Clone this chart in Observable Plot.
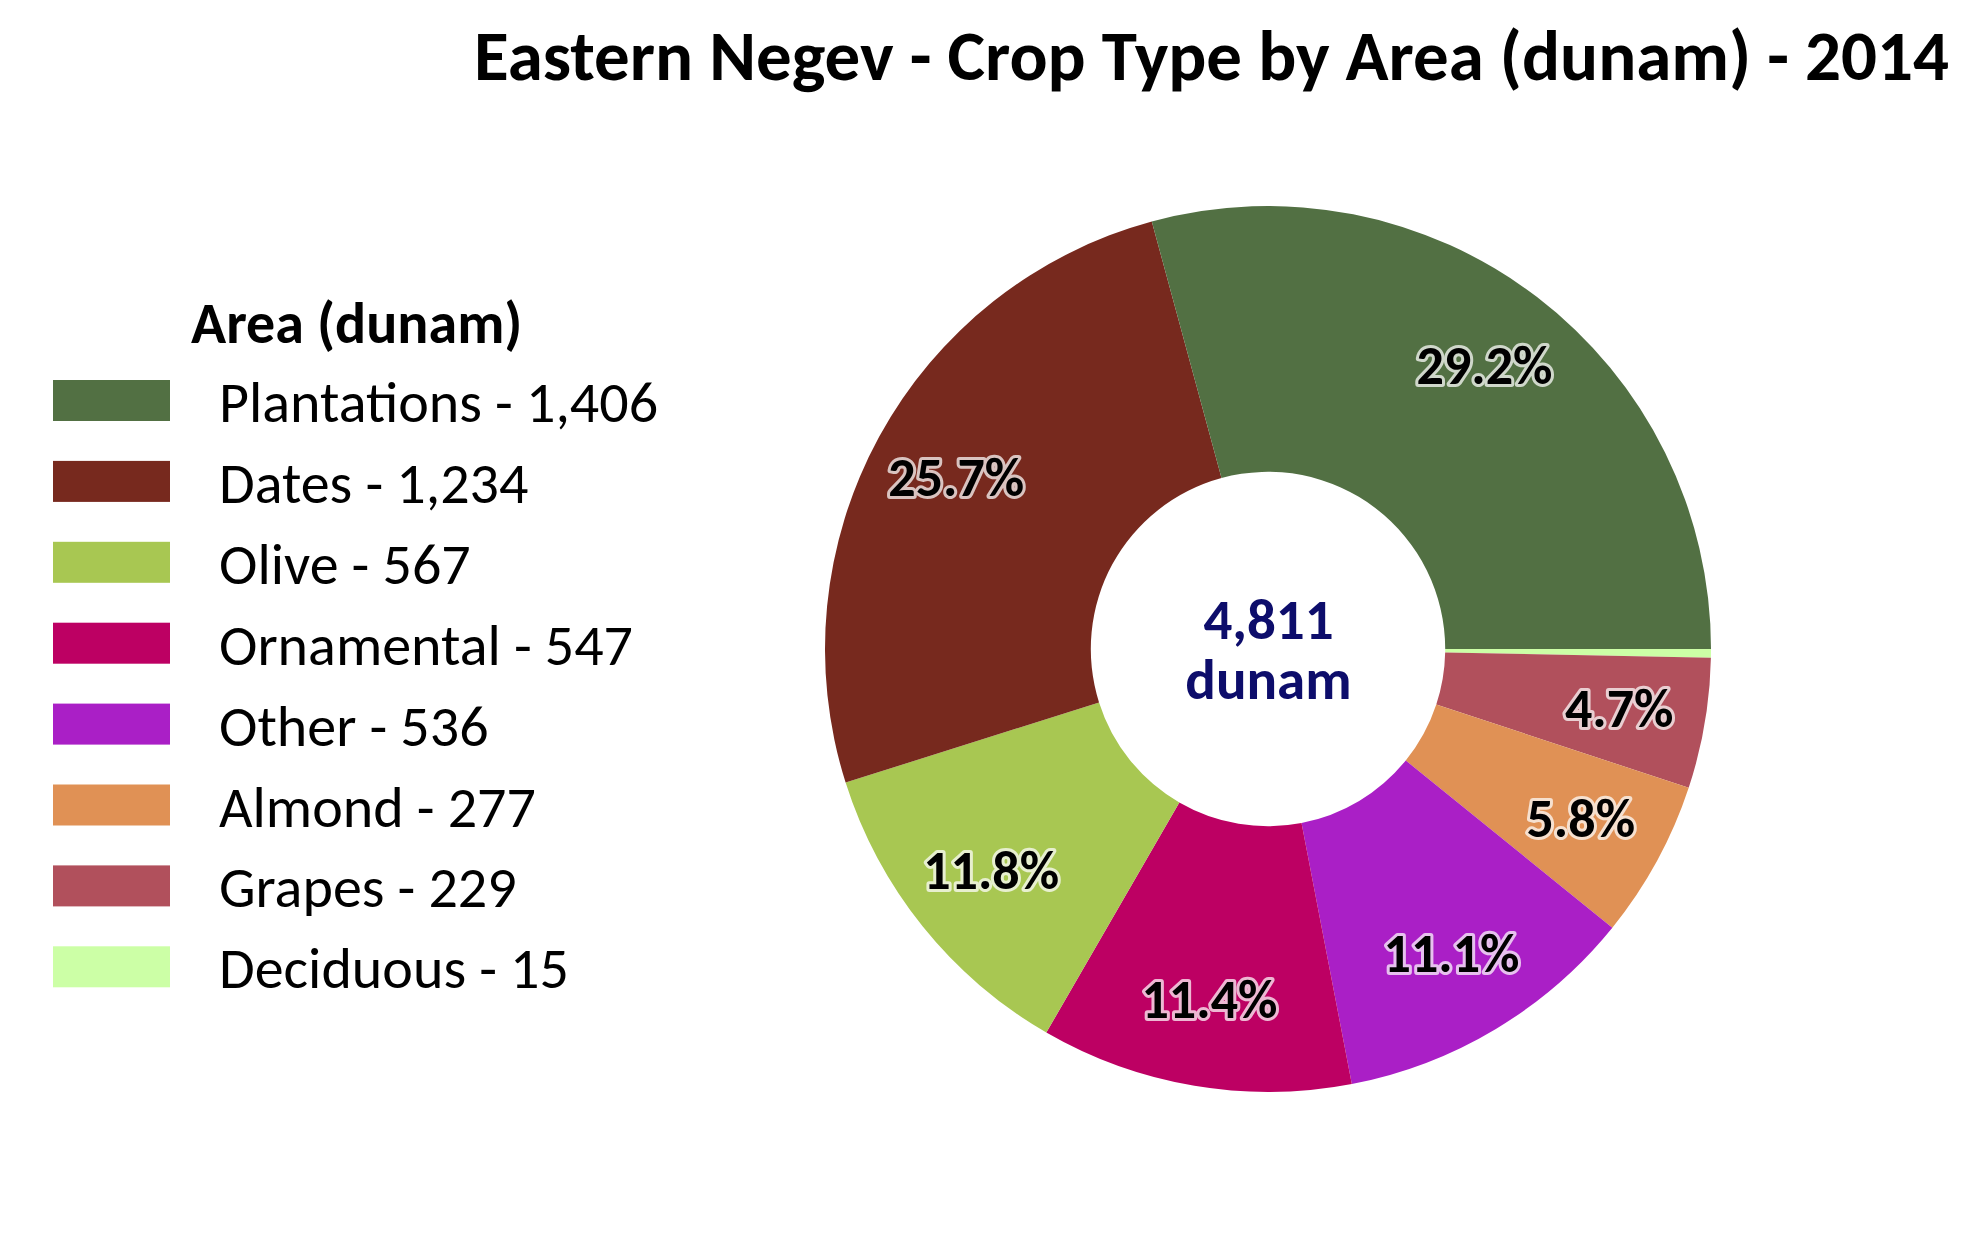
<!DOCTYPE html>
<html>
<head>
<meta charset="utf-8">
<script src="https://cdn.jsdelivr.net/npm/d3@7"></script>
<script src="https://cdn.jsdelivr.net/npm/@observablehq/plot@0.6"></script>
<style>
  html, body { margin: 0; padding: 0; background: #ffffff; }
  #wrap { position: relative; width: 1981px; height: 1234px; overflow: hidden; background: #ffffff; }
  #wrap > svg { position: absolute; left: 0; top: 0; }
  #overlay { pointer-events: none; }
</style>
</head>
<body>
<div id="wrap"></div>
<script>
// ---- data ----
const categories = ["Plantations", "Dates", "Olive", "Ornamental", "Other", "Almond", "Grapes", "Deciduous"];
const areas      = [1406, 1234, 567, 547, 536, 277, 229, 15];
const pctLabels  = ["29.2%", "25.7%", "11.8%", "11.4%", "11.1%", "5.8%", "4.7%", ""];
const colors     = ["#527043", "#77291e", "#a8c752", "#bd0063", "#aa1fc6", "#e09155", "#b1505c", "#ccffa6"];
const titleText   = "Eastern Negev - Crop Type by Area (dunam) - 2014";
const legendTitle = "Area (dunam)";
const unitLabel   = "dunam";

// ---- styling constants ----
const FONT = "Carlito, Lato, 'Open Sans', sans-serif";
const CX = 1268, CY = 649, R = 443;
const HOLE = 0.40, LABEL_R = 0.803;

const table = categories.map((c, i) => ({category: c, area: areas[i], pct: pctLabels[i], color: colors[i]}));
const total = d3.sum(areas);

// Plot's own colour scale
const color = Plot.scale({color: {domain: categories, range: colors}});

// pie layout: clockwise from 3 o'clock, starting with the last category
const pie = d3.pie().value(d => d.area).sort(null).startAngle(Math.PI / 2).endAngle(Math.PI / 2 + 2 * Math.PI);
const arcs = pie(table.slice().reverse());
const labelData = arcs.filter(a => a.data.pct).map(a => {
  const m = (a.startAngle + a.endAngle) / 2;
  return {lx: LABEL_R * Math.sin(m), ly: LABEL_R * Math.cos(m), label: a.data.pct,
          halo: d3.interpolateRgb(a.data.color, "#ffffff")(0.72)};
});

function donut(index, scales) {
  const cx = scales.x(0), cy = scales.y(0);
  const r = scales.x(1) - cx;
  const arc = d3.arc().innerRadius(r * HOLE).outerRadius(r);
  const g = d3.create("svg:g").attr("transform", `translate(${cx},${cy})`);
  g.selectAll("path").data(arcs).join("path")
    .attr("d", arc)
    .attr("fill", d => color.apply(d.data.category));
  return g.node();
}

const centerData = [{x: 0, y: 0, text: `${d3.format(",")(total)}\n${unitLabel}`}];

const chart = Plot.plot({
  width: 1981, height: 1234, margin: 0,
  x: {domain: [-1, 1], range: [CX - R, CX + R], axis: null},
  y: {domain: [-1, 1], range: [CY + R, CY - R], axis: null},
  style: {background: "transparent", fontFamily: FONT},
  marks: [
    donut,
    ...labelData.map(d => Plot.text([d], {
      x: "lx", y: "ly", text: "label",
      fill: "#000000", stroke: d.halo, strokeWidth: 6, paintOrder: "stroke",
      fontSize: 54, fontWeight: "bold", fontFamily: FONT
    })),
    Plot.text(centerData, {
      x: "x", y: "y", text: "text", fill: "#0d0d6b",
      fontSize: 57, fontWeight: "bold", lineHeight: 1.05, fontFamily: FONT
    })
  ]
});
document.getElementById("wrap").appendChild(chart);

// ---- title and legend overlay ----
const ov = d3.select("#wrap").append("svg").attr("id", "overlay")
  .attr("width", 1981).attr("height", 1234)
  .style("font-family", FONT);

ov.append("text").attr("x", 1949).attr("y", 80).attr("text-anchor", "end")
  .attr("font-size", 71).attr("font-weight", "bold").attr("fill", "#000")
  .text(titleText);

ov.append("text").attr("x", 191).attr("y", 343)
  .attr("font-size", 58).attr("font-weight", "bold").attr("fill", "#000")
  .text(legendTitle);

const rowH = 80.9;
const rows = ov.selectAll("g.row").data(table).join("g").attr("class", "row")
  .attr("transform", (d, i) => `translate(0,${i * rowH})`);
rows.append("rect").attr("x", 53).attr("y", 380).attr("width", 117).attr("height", 41)
  .attr("fill", d => color.apply(d.category));
rows.append("text").attr("x", 219).attr("y", 422)
  .attr("font-size", 58).attr("fill", "#000")
  .text(d => `${d.category} - ${d3.format(",")(d.area)}`);
</script>
</body>
</html>
